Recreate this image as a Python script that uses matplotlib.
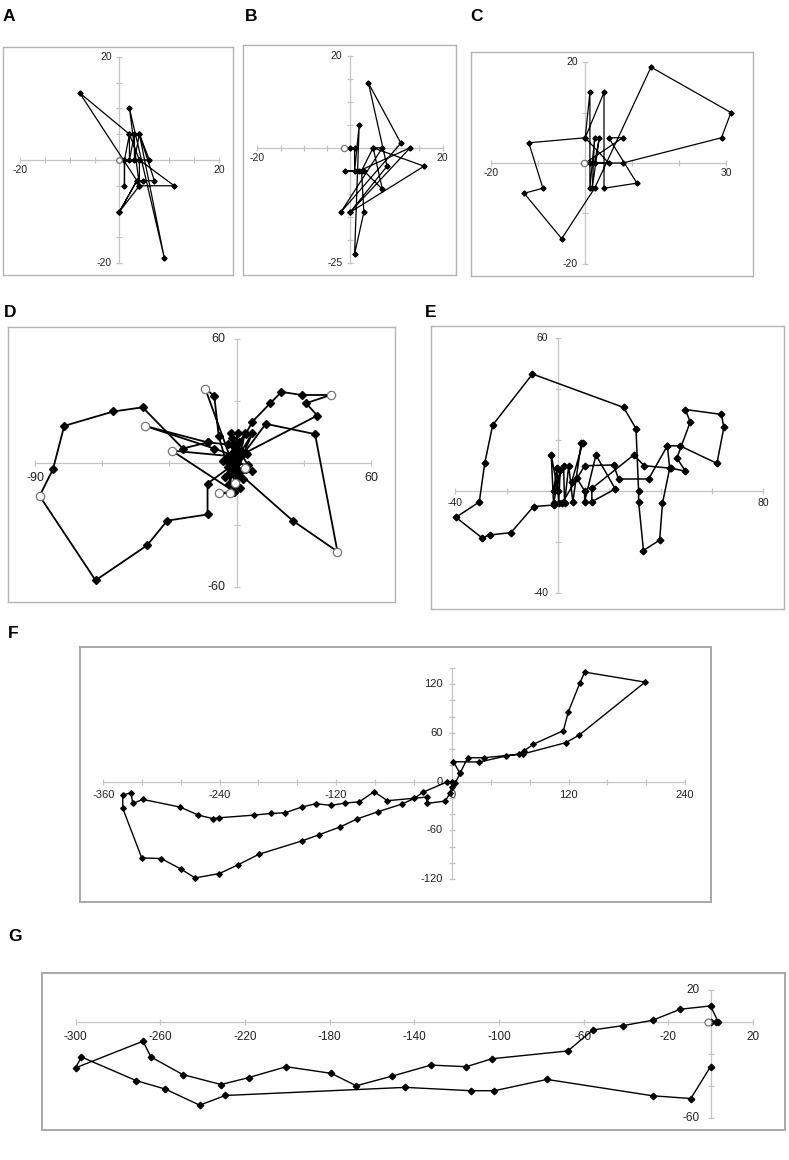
import numpy as np
import matplotlib
matplotlib.use("Agg")
import matplotlib.pyplot as plt

plt.rcParams['font.family'] = ['Liberation Sans', 'DejaVu Sans']

W, H = 789, 1160

# ---------------- data ----------------
# Panel A
a_x = [0, 1, 1, 1, 2, 2, 3, 3, 4, 6, 4, 4, 0, 3.5, 4.75, 7, 4, 9, 2, 4, 11, 4, 2, -8, 3.5, 0]
a_y = [0, 0, -5, 0, 5, 0, 5, 0, 5, 0, 0, -5, -10, -4, -4, -4, 5, -19, 10, -5, -5, 0, 5, 13, -4, -10]
# Panel B
b_x = [0, 1, 1, 2, 1, 3, 2.5, 5, 7, -2, 11, 4, 8, 0, 13, 2, -1, 3, 7, 5, 16, 0]
b_y = [0, 0, -5, 5, -23, -14, -5, 0, 0, -14, 1, 14, -4, -14, 0, -5, -5, -5, -9, 0, -4, -14]
# Panel C
c_x = [0, 8, 5, 11, 4, 4, 0, 1, 1, 2, 1.5, 3, 2, 5, 0, -12, -9, -13, -5, 2, 14, 31, 29, 8, 1]
c_y = [0, 5, 5, -4, -5, 14, 5, 14, -5, 5, -5, 5, 0, 0, 5, 4, -5, -6, -15, -5, 19, 10, 5, 0, 0]
# Panel D (several tracks)
d_loop_x = [-3, -13, -13, -31, -40, -63, -88, -82, -77, -55, -42, -24, -13, -4, 0]
d_loop_y = [-2, -10, -25, -28, -40, -57, -16, -3, 18, 25, 27, 7, 10, 9, 5]
d_ne_x = [0, 4, 36, 31, 42, 29, 20, 15, 7, 4, -1, 3]
d_ne_y = [-3, 5, 23, 29, 33, 33, 34.5, 29, 20, 14, 8, 5]
d_se_x = [0, 13, 35, 45, 25, -1, 4]
d_se_y = [0, 19, 14, -43, -28, -3, -3]
d_nw_x = [-2, -14, -10, -8, -4]
d_nw_y = [0, 36, 32.5, 13, -2]
d_w_x = [-13, -41, -10, 0, -29, -1, -3]
d_w_y = [10, 18, 7, 3, 6, -14, -10]
d_core_x = [-3, 0.7, -2, 3.7, 0, 7, -1, -2.5, 1, -4, 1, -3, 4.5, -1, -3.3, 0, -1, -8, -3, 3.7, 7, 0, -0.8,
            -4.5, 0.7, -5, 2, -2, 5, -6, 3, -1.5, 1.5]
d_core_y = [-2, 14.7, -1, 14.4, -3, 14.4, 0, 14.4, -5, 3, 10, -5, 4.4, 8, -10, 0, -14, -14.7, -14.7, -2.6, -3.7, -6, -9.5,
            3, 9.8, -7, 6, 12, -1, 1, -8, 5, -12]
d_open_x = [-88, -41, -29, -14, 42, 45, -8, -3, -0.8, 3.7]
d_open_y = [-16, 18, 6, 36, 33, -43, -14.7, -14.7, -9.5, -2.6]
# Panel E
e_x = [0, -2.6, -1.7, 0.9, 0.3, -0.4, -1.7, 2.2, 2.6, 4.2, 5.8, 9.1, 9.7, 5.4, 7.4, 10.4, 10.4, 14.8, 22.3, 13.2,
       13.2, 29.5, 33.6, 44.1, 49.6, 46.3, 51.5, 49.6, 63.6, 64.6, 61.9, 47.5, 42.6, 43.5, 40.7, 39.6, 33.3, 31.4, 31.4, 30.4,
       25.6, -9.9, -25.4, -28.5, -30.6, -39.7, -29.6, -26.3, -18.3, -9.5, -1.7, 1.6, 10.4, 21.7, 23.6, 35.3, 42.6]
e_y = [0, 14.1, -4.8, 8.2, -4.8, 8.9, 0, 9.9, -4.8, 9.9, -4.2, 18.9, 18.9, 3.7, 5.0, 0, -4.2, 14.1, 0.8, -4.2,
       1.0, 14.1, 9.9, 8.9, 7.8, 12.9, 27.0, 31.9, 30.0, 24.9, 10.8, 17.7, 17.7, 8.9, -4.8, -19.2, -23.3, -4.2, 0, 24.4,
       32.7, 45.8, 25.8, 10.8, -4.3, -10.3, -18.3, -17.2, -16.3, -6.1, -5.5, -4.8, 9.9, 10.2, 4.7, 4.7, 17.7]
# Panel F
f_x = [0, -5.8, -30.5, -39.2, -51.9, -77.0, -98.6, -115.5, -137.8, -155.0, -199.4, -221.4, -240.3, -265.4, -280.2,
       -300.5, -320.4, -340.0, -340.0, -331.4, -329.7, -319.3, -280.9, -262.0, -246.5, -241.0, -204.5, -187.3, -172.3,
       -155.4, -140.9, -125.1, -110.7, -95.9, -80.8, -67.0, -26.4, -26.4, -7.5, -2.4, -0.6, 2.8, 7.9, 1.0, 27.8, 55.4,
       69.1, 74.3, 83.6, 114.5, 119.7, 131.7, 136.6, 198.8, 130.7, 117.0, 73.0, 33.0, 15.9, 7.9]
f_y = [0, -0.6, -13.3, -20.7, -27.7, -37.2, -46.2, -55.7, -65.6, -73.0, -89.4, -102.6, -113.2, -118.6, -107.5,
       -94.7, -94.0, -33.0, -16.6, -13.8, -26.9, -22.0, -31.4, -41.3, -45.8, -44.6, -41.3, -39.3, -38.4,
       -31.4, -27.3, -29.3, -26.5, -24.9, -12.5, -23.6, -19.1, -27.0, -24.0, -14.6, -6.4, -2.3, 10.1, 24.4, 24.0, 31.4,
       33.9, 38.0, 45.9, 62.6, 86.0, 121.8, 134.6, 122.3, 57.0, 47.8, 34.0, 29.3, 29.3, 10.1]
# Panel G
g_x = [0, 2.4, 3.7, 0, -14.4, -27.3, -41.4, -55.6, -67.4, -103.3, -115.4, -132.1, -150.4, -167.4, -179.2, -200.5,
       -218.3, -231.3, -249.3, -264.4, -268.2, -300, -297.3, -271.3, -257.6, -241.4, -229.3, -144.3, -113.2, -102.1,
       -77.3, -27.3, -9.3, 0]
g_y = [0, 0, 0, 10.2, 8.1, 1.2, -2.2, -4.9, -18.1, -23, -28, -27, -33.9, -40, -32.2, -28,
       -34.9, -39.2, -33, -21.9, -12, -28.7, -21.9, -36.8, -42.1, -52.2, -46.1, -41, -43.1, -43.1,
       -36, -46.3, -48, -28]

# ---------------- drawing ----------------
fig = plt.figure(figsize=(W / 100, H / 100), dpi=100)
AXC = '#c4c4c4'


def make_panel(box, xlim, ylim, xr, yr, xstep, ystep, xlabels, ylabels, fs,
               xoff, yoff, frame_c='#b4b4b4', frame_w=1.0):
    L, T, R, B = box
    ax = fig.add_axes([L / W, 1 - B / H, (R - L) / W, (B - T) / H])
    ax.set_xlim(xlim)
    ax.set_ylim(ylim)
    ax.set_xticks([])
    ax.set_yticks([])
    for s in ax.spines.values():
        s.set_color(frame_c)
        s.set_linewidth(frame_w)
    ax.plot(xr, [0, 0], color=AXC, lw=0.9, zorder=1)
    ax.plot([0, 0], yr, color=AXC, lw=0.9, zorder=1)
    xt = np.arange(xr[0], xr[1] + 1e-9, xstep)
    yt = np.arange(yr[0], yr[1] + 1e-9, ystep)
    ax.plot(xt, np.zeros_like(xt), ls='none', marker='|', ms=5, mew=0.9, color=AXC, zorder=1)
    ax.plot(np.zeros_like(yt), yt, ls='none', marker='_', ms=5, mew=0.9, color=AXC, zorder=1)
    for v in xlabels:
        ax.annotate(str(v), (v, 0), xytext=(0, -xoff), textcoords='offset points',
                    ha='center', va='center', fontsize=fs, color='#222222', zorder=2)
    for v in ylabels:
        ax.annotate(str(v), (0, v), xytext=(-yoff, 0), textcoords='offset points',
                    ha='right', va='center', fontsize=fs, color='#222222', zorder=2)
    return ax


def track(ax, xs, ys, lw=1.0, ms=3.0):
    ax.plot(xs, ys, color='black', lw=lw, marker='D', ms=ms, mfc='black', mec='black', zorder=3)


def start(ax, xs, ys, ms=4.5):
    ax.plot(xs, ys, ls='none', marker='o', ms=ms, mfc='white', mec='#777777', mew=0.9, zorder=4)


def letter(x, y, s):
    fig.text(x / W, 1 - y / H, s, fontsize=12.5, fontweight='bold', ha='left', va='baseline')


# A
ax = make_panel((3, 47, 233, 275), (-23.4, 22.8), (-22.3, 21.9), (-20, 20), (-20, 20), 5, 5,
                [-20, 20], [20, -20], 7.5, 7.5, 5.5)
track(ax, a_x, a_y, lw=0.9, ms=2.6)
start(ax, [0], [0], ms=4)
letter(3, 21, 'A')

# B
ax = make_panel((243, 45, 456, 275), (-23.1, 22.9), (-27.6, 22.3), (-20, 20), (-25, 20), 5, 5,
                [-20, 20], [20, -25], 7.5, 7.5, 5.5)
track(ax, b_x, b_y, lw=0.9, ms=2.6)
start(ax, [-1.2], [0], ms=4.5)
letter(245, 21, 'B')

# C
ax = make_panel((471, 52, 753, 276), (-24.3, 35.7), (-22.4, 22.0), (-20, 30), (-20, 20), 10, 10,
                [-20, 30], [20, -20], 7.5, 7.5, 5.5)
track(ax, c_x, c_y, lw=0.9, ms=2.6)
start(ax, [-0.3], [0], ms=4.5)
letter(470, 21, 'C')

# D
ax = make_panel((8, 327, 395, 602), (-102.1, 70.7), (-67.5, 66.0), (-90, 60), (-60, 60), 30, 30,
                [-90, 60], [60, -60], 9, 11, 8)
for xs, ys in [(d_loop_x, d_loop_y), (d_ne_x, d_ne_y), (d_se_x, d_se_y),
               (d_nw_x, d_nw_y), (d_w_x, d_w_y), (d_core_x, d_core_y)]:
    track(ax, xs, ys, lw=1.3, ms=3.6)
start(ax, d_open_x, d_open_y, ms=6)
letter(4, 317, 'D')

# E
ax = make_panel((431, 326, 784, 609), (-49.4, 88.0), (-46.2, 64.6), (-40, 80), (-40, 60), 20, 20,
                [-40, 80], [60, -40], 7.5, 9, 7)
track(ax, e_x, e_y, lw=1.1, ms=3.4)
letter(425, 317, 'E')

# F
ax = make_panel((80, 647, 711, 902), (-384.1, 266.8), (-148.2, 165.5), (-360, 240), (-120, 140), 40, 20,
                [-360, -240, -120, 0, 120, 240], [120, 60, 0, -60, -120], 8, 9.5, 7,
                frame_c='#a8a8a8', frame_w=1.4)
track(ax, f_x, f_y, lw=1.0, ms=2.8)
letter(8, 638, 'F')

# G
ax = make_panel((42, 973, 785, 1130), (-315.9, 35.2), (-67.8, 30.9), (-300, 20), (-60, 20), 40, 20,
                [-300, -260, -220, -180, -140, -100, -60, -20, 20], [20, -60], 8.5, 10.5, 8,
                frame_c='#a8a8a8', frame_w=1.4)
track(ax, g_x, g_y, lw=1.0, ms=3.3)
start(ax, [-1], [0], ms=5)
letter(8, 941, 'G')

fig.savefig('out.png', dpi=100)
